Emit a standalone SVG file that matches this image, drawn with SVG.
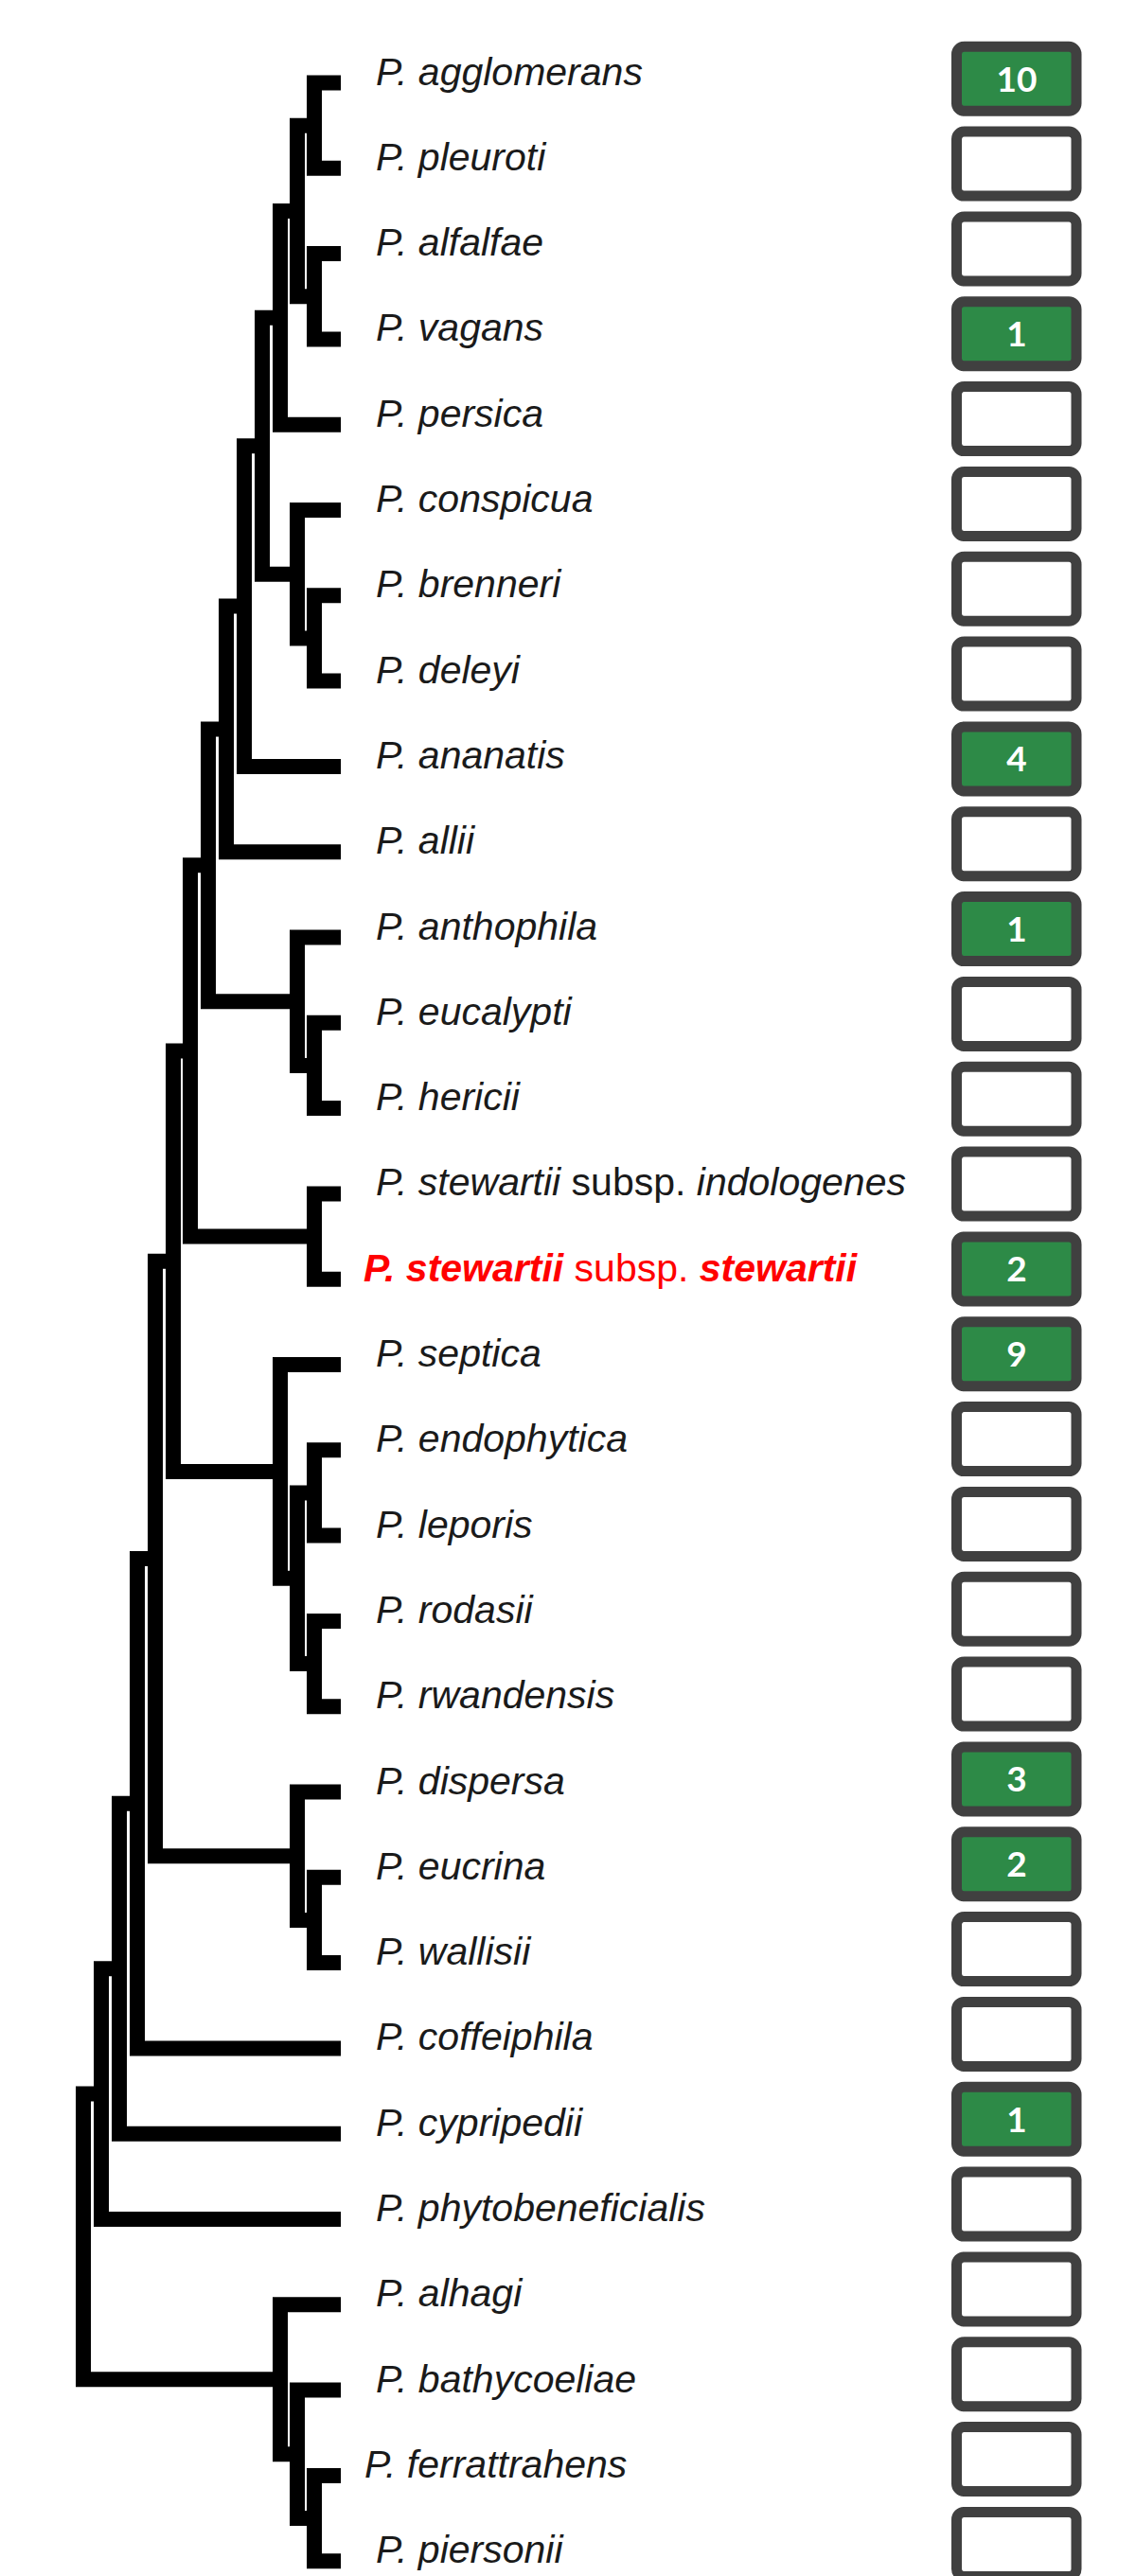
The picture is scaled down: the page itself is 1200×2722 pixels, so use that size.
<svg xmlns="http://www.w3.org/2000/svg" width="1200" height="2722" viewBox="0 0 1200 2722">
  <style>
    .br { fill: none; stroke: #000; stroke-width: 16; stroke-linejoin: miter; stroke-linecap: butt; }
    .lb { font-family: "Liberation Sans", Arial, sans-serif; font-size: 41px; font-style: italic; fill: #1a1a1a; }
    .up { font-style: normal; }
    .hl { fill: #ff0000; }
    .hl .b { font-weight: bold; }
    .box { fill: #ffffff; stroke: #404040; stroke-width: 11; }
    .hit { fill: #2d8a47; }
    .n { font-family: Lato, "Liberation Sans", sans-serif; font-weight: bold; font-size: 37px; fill: #ffffff; text-anchor: middle; }
  </style>
  <defs>
    <rect id="cnt" x="1010.5" y="-34" width="126.5" height="68" rx="8" ry="8"/>
  </defs>
  <rect width="1200" height="2722" fill="#ffffff"/>

  <!-- tree branches: each path is one internal node (child, node vertical, child) -->
  <g id="connectors">
    <path class="br" d="M360 87.5 H332 V177.8 H360"/>
    <path class="br" d="M360 268.1 H332 V358.4 H360"/>
    <path class="br" d="M332 132.65 H314 V313.25 H332"/>
    <path class="br" d="M314 222.95 H296 V448.7 H360"/>
    <path class="br" d="M360 629.3 H332 V719.6 H360"/>
    <path class="br" d="M360 539 H314 V674.45 H332"/>
    <path class="br" d="M296 335.8 H277 V606.7 H314"/>
    <path class="br" d="M277 471.25 H258 V809.9 H360"/>
    <path class="br" d="M258 640.6 H239 V900.2 H360"/>
    <path class="br" d="M360 1080.8 H332 V1171.1 H360"/>
    <path class="br" d="M360 990.5 H314 V1125.95 H332"/>
    <path class="br" d="M239 770.4 H220 V1058.2 H314"/>
    <path class="br" d="M360 1261.4 H332 V1351.7 H360"/>
    <path class="br" d="M220 914.3 H201 V1306.55 H332"/>
    <path class="br" d="M360 1532.3 H332 V1622.6 H360"/>
    <path class="br" d="M360 1712.9 H332 V1803.2 H360"/>
    <path class="br" d="M332 1577.45 H314 V1758.05 H332"/>
    <path class="br" d="M360 1442 H296 V1667.75 H314"/>
    <path class="br" d="M201 1110.4 H183 V1554.9 H296"/>
    <path class="br" d="M360 1983.8 H332 V2074.1 H360"/>
    <path class="br" d="M360 1893.5 H314 V2028.95 H332"/>
    <path class="br" d="M183 1332.65 H164 V1961.2 H314"/>
    <path class="br" d="M164 1646.9 H145 V2164.4 H360"/>
    <path class="br" d="M145 1905.65 H126 V2254.7 H360"/>
    <path class="br" d="M126 2080.2 H107 V2345 H360"/>
    <path class="br" d="M360 2615.9 H332 V2706.2 H360"/>
    <path class="br" d="M360 2525.6 H314 V2661.05 H332"/>
    <path class="br" d="M360 2435.3 H296 V2593.3 H314"/>
    <path class="br" d="M107 2212.6 H88 V2514.3 H296"/>
  </g>

  <!-- taxa: name and count box -->
  <g id="agglomerans"><text class="lb" x="397" y="89.5">P. agglomerans</text><use href="#cnt" class="box hit" y="83.3"/><text class="n" x="1074" y="96.8">10</text></g>
  <g id="pleuroti"><text class="lb" x="397" y="179.8">P. pleuroti</text><use href="#cnt" class="box" y="173.1"/></g>
  <g id="alfalfae"><text class="lb" x="397" y="270.1">P. alfalfae</text><use href="#cnt" class="box" y="263"/></g>
  <g id="vagans"><text class="lb" x="397" y="360.4">P. vagans</text><use href="#cnt" class="box hit" y="352.8"/><text class="n" x="1074" y="366.3">1</text></g>
  <g id="persica"><text class="lb" x="397" y="450.7">P. persica</text><use href="#cnt" class="box" y="442.6"/></g>
  <g id="conspicua"><text class="lb" x="397" y="541">P. conspicua</text><use href="#cnt" class="box" y="532.5"/></g>
  <g id="brenneri"><text class="lb" x="397" y="631.3">P. brenneri</text><use href="#cnt" class="box" y="622.3"/></g>
  <g id="deleyi"><text class="lb" x="397" y="721.6">P. deleyi</text><use href="#cnt" class="box" y="712.1"/></g>
  <g id="ananatis"><text class="lb" x="397" y="811.9">P. ananatis</text><use href="#cnt" class="box hit" y="801.9"/><text class="n" x="1074" y="815.4">4</text></g>
  <g id="allii"><text class="lb" x="397" y="902.2">P. allii</text><use href="#cnt" class="box" y="891.8"/></g>
  <g id="anthophila"><text class="lb" x="397" y="992.5">P. anthophila</text><use href="#cnt" class="box hit" y="981.6"/><text class="n" x="1074" y="995.1">1</text></g>
  <g id="eucalypti"><text class="lb" x="397" y="1082.8">P. eucalypti</text><use href="#cnt" class="box" y="1071.4"/></g>
  <g id="hericii"><text class="lb" x="397" y="1173.1">P. hericii</text><use href="#cnt" class="box" y="1161.3"/></g>
  <g id="stewartii-indologenes"><text class="lb" x="397" y="1263.4">P. stewartii<tspan class="up"> subsp. </tspan>indologenes</text><use href="#cnt" class="box" y="1251.1"/></g>
  <g id="stewartii-stewartii"><text class="lb hl" x="384" y="1353.7"><tspan class="b">P. stewartii</tspan><tspan class="up"> subsp. </tspan><tspan class="b">stewartii</tspan></text><use href="#cnt" class="box hit" y="1340.9"/><text class="n" x="1074" y="1354.4">2</text></g>
  <g id="septica"><text class="lb" x="397" y="1444">P. septica</text><use href="#cnt" class="box hit" y="1430.7"/><text class="n" x="1074" y="1444.2">9</text></g>
  <g id="endophytica"><text class="lb" x="397" y="1534.3">P. endophytica</text><use href="#cnt" class="box" y="1520.6"/></g>
  <g id="leporis"><text class="lb" x="397" y="1624.6">P. leporis</text><use href="#cnt" class="box" y="1610.4"/></g>
  <g id="rodasii"><text class="lb" x="397" y="1714.9">P. rodasii</text><use href="#cnt" class="box" y="1700.2"/></g>
  <g id="rwandensis"><text class="lb" x="397" y="1805.2">P. rwandensis</text><use href="#cnt" class="box" y="1790.1"/></g>
  <g id="dispersa"><text class="lb" x="397" y="1895.5">P. dispersa</text><use href="#cnt" class="box hit" y="1879.9"/><text class="n" x="1074" y="1893.4">3</text></g>
  <g id="eucrina"><text class="lb" x="397" y="1985.8">P. eucrina</text><use href="#cnt" class="box hit" y="1969.7"/><text class="n" x="1074" y="1983.2">2</text></g>
  <g id="wallisii"><text class="lb" x="397" y="2076.1">P. wallisii</text><use href="#cnt" class="box" y="2059.6"/></g>
  <g id="coffeiphila"><text class="lb" x="397" y="2166.4">P. coffeiphila</text><use href="#cnt" class="box" y="2149.4"/></g>
  <g id="cypripedii"><text class="lb" x="397" y="2256.7">P. cypripedii</text><use href="#cnt" class="box hit" y="2239.2"/><text class="n" x="1074" y="2252.7">1</text></g>
  <g id="phytobeneficialis"><text class="lb" x="397" y="2347">P. phytobeneficialis</text><use href="#cnt" class="box" y="2329.1"/></g>
  <g id="alhagi"><text class="lb" x="397" y="2437.3">P. alhagi</text><use href="#cnt" class="box" y="2418.9"/></g>
  <g id="bathycoeliae"><text class="lb" x="397" y="2527.6">P. bathycoeliae</text><use href="#cnt" class="box" y="2508.7"/></g>
  <g id="ferrattrahens"><text class="lb" x="385" y="2617.9">P. ferrattrahens</text><use href="#cnt" class="box" y="2598.5"/></g>
  <g id="piersonii"><text class="lb" x="397" y="2708.2">P. piersonii</text><use href="#cnt" class="box" y="2688.4"/></g>
</svg>
